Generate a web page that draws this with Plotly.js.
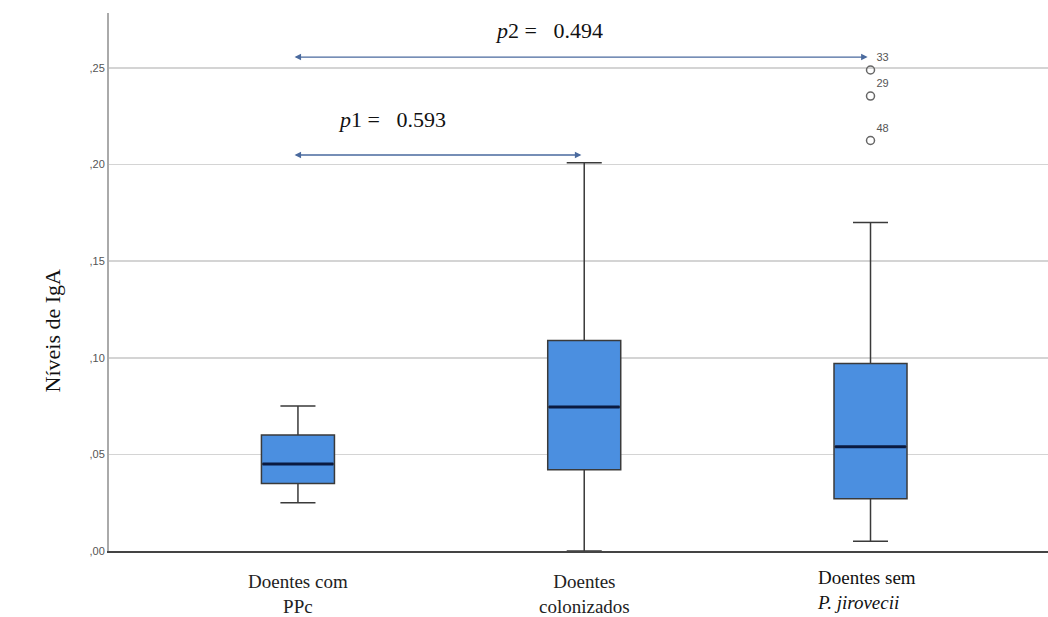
<!DOCTYPE html>
<html><head><meta charset="utf-8">
<script src="https://cdn.plot.ly/plotly-3.0.1.min.js"></script>
<style>body{margin:0;background:#fff}#c{width:1048px;height:617px}</style>
</head><body><div id="c"></div>
<script>
const categories = ["Doentes com<br>PPc", "Doentes<br>colonizados", "Doentes sem<br><i>P. jirovecii</i>"];
const lowerWhisker = [0.025, 0.000, 0.005];
const q1 = [0.035, 0.042, 0.027];
const median = [0.045, 0.0745, 0.054];
const q3 = [0.060, 0.109, 0.097];
const upperWhisker = [0.075, 0.201, 0.170];
const outlierGroup = [2, 2, 2];
const outlierValues = [0.249, 0.2355, 0.2125];
const outlierIds = ["33", "29", "48"];
const tickValues = [0, 0.05, 0.10, 0.15, 0.20, 0.25];
const tickLabels = [",00", ",05", ",10", ",15", ",20", ",25"];
const pLabels = ["<i>p</i>1 =   0.593", "<i>p</i>2 =   0.494"];
const pFrom = [0, 0];
const pTo = [1, 2];
const pLevel = [0.205, 0.2557];

const idx = categories.map((c, i) => i);
const boxW = 0.255;
const serif = 'Liberation Serif, Times New Roman, serif';
const traces = [{
  type: 'box', x: idx, q1: q1, median: median, q3: q3,
  lowerfence: lowerWhisker, upperfence: upperWhisker,
  width: boxW, whiskerwidth: 0.48,
  fillcolor: '#4b8fe0', line: {color: '#3a3a3a', width: 1.5},
  boxpoints: false, hoverinfo: 'y', showlegend: false
}];
const mx = [], my = [];
idx.forEach(i => { mx.push(i - boxW/2 + 0.004, i + boxW/2 - 0.004, null); my.push(median[i], median[i], null); });
traces.push({type: 'scatter', mode: 'lines', x: mx, y: my, line: {color: '#0a1a40', width: 3}, showlegend: false, hoverinfo: 'skip'});
traces.push({
  type: 'scatter', mode: 'markers+text', x: outlierGroup, y: outlierValues, text: outlierIds,
  textposition: 'top right', textfont: {family: 'Liberation Sans, Arial', size: 11, color: '#555'},
  marker: {symbol: 'circle-open', size: 8, color: '#666', line: {width: 1.5}}, showlegend: false
});

const annotations = [];
pLabels.forEach((t, k) => {
  annotations.push({x: pTo[k] - 0.01, y: pLevel[k], ax: pFrom[k] - 0.017, ay: pLevel[k], xref: 'x', yref: 'y', axref: 'x', ayref: 'y',
    text: '', showarrow: true, arrowhead: 2, arrowside: 'end+start', arrowsize: 1, arrowwidth: 1.3, arrowcolor: '#4a6a9e'});
});
annotations.push({x: 0.33, y: 0.2236, xref: 'x', yref: 'y', text: pLabels[0], showarrow: false,
  font: {family: serif, size: 22, color: '#111'}});
annotations.push({x: 0.876, y: 0.2697, xref: 'x', yref: 'y', text: pLabels[1], showarrow: false,
  font: {family: serif, size: 22, color: '#111'}});
// category labels
annotations.push({x: 0, y: -0.08, xref: 'x', yref: 'paper', text: categories[0], showarrow: false, yanchor: 'middle',
  font: {family: serif, size: 19, color: '#222'}});
annotations.push({x: 1, y: -0.08, xref: 'x', yref: 'paper', text: categories[1], showarrow: false, yanchor: 'middle',
  font: {family: serif, size: 19, color: '#222'}});
annotations.push({x: 1.805, y: -0.072, xref: 'x', yref: 'paper', text: categories[2], showarrow: false, yanchor: 'middle',
  xanchor: 'left', align: 'left', font: {family: serif, size: 19, color: '#111'}});
// y title
annotations.push({x: -0.0607, y: 0.41, xref: 'paper', yref: 'paper', text: 'Níveis de IgA', showarrow: false, textangle: -90,
  xanchor: 'center', yanchor: 'middle', font: {family: serif, size: 22, color: '#111'}});

const layout = {
  width: 1048, height: 617,
  margin: {l: 109, r: 0, t: 13, b: 66},
  paper_bgcolor: '#fff', plot_bgcolor: '#fff',
  xaxis: {range: [-0.66, 2.62], tickvals: idx, showticklabels: false, showgrid: false, zeroline: false,
    showline: true, linecolor: '#444', linewidth: 1.5, ticks: ''},
  yaxis: {range: [0, 0.2785], tickvals: tickValues, ticktext: tickLabels, showgrid: true, gridcolor: '#d4d4d4', gridwidth: 1.5,
    zeroline: false, showline: true, linecolor: '#aaa', linewidth: 2, ticks: '',
    tickfont: {family: 'Liberation Sans, Arial', size: 11, color: '#555'}},
  annotations: annotations
};
Plotly.newPlot('c', traces, layout, {displayModeBar: false, staticPlot: true});
</script></body></html>
